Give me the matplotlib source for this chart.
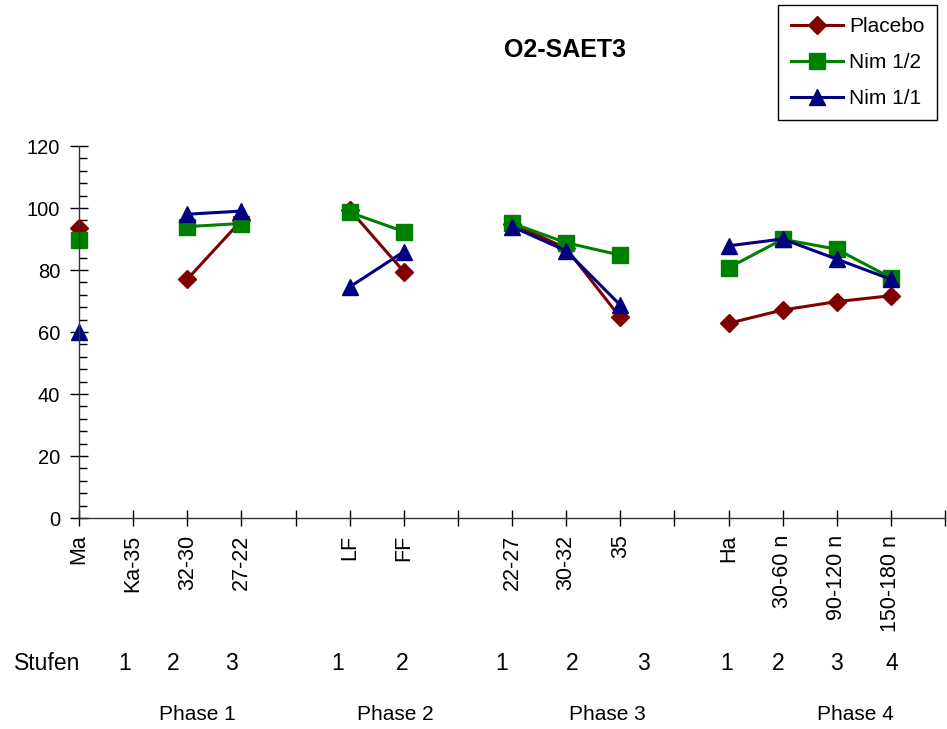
import numpy as np
import matplotlib
matplotlib.use("Agg")
import matplotlib.pyplot as plt
from matplotlib.ticker import MultipleLocator

plt.rcParams["font.family"] = ["Liberation Sans", "DejaVu Sans"]

# categories on the x axis ('' = empty gap slot)
categories = ["Ma", "Ka-35", "32-30", "27-22", "",
              "LF", "FF", "",
              "22-27", "30-32", "35", "",
              "Ha", "30-60 n", "90-120 n", "150-180 n", ""]
nan = np.nan
placebo = [93.5, nan, 77, 96, nan, 99.5, 79.5, nan, 95, 87, 64.7, nan, 62.8, 67.1, 69.8, 71.7, nan]
nim_half = [89.8, nan, 94, 95, nan, 98.6, 92.4, nan, 95.1, 88.8, 84.8, nan, 80.7, 89.9, 86.7, 77.5, nan]
nim_full = [60, nan, 98, 99, nan, 74.5, 85.9, nan, 94, 86.2, 68.7, nan, 87.8, 90, 83.5, 77, nan]

stufen = ["1", "2", "3", "1", "2", "1", "2", "3", "1", "2", "3", "4"]
phases = ["Phase 1", "Phase 2", "Phase 3", "Phase 4"]

W, H = 947, 729
fig = plt.figure(figsize=(W / 100, H / 100), dpi=100)
ax = fig.add_axes([79 / W, 1 - 518 / H, (945 - 79) / W, (518 - 146) / H])

x = np.arange(len(categories))
series = [
    ("Placebo", placebo, "#800000", "D", 9),
    ("Nim 1/2", nim_half, "#008000", "s", 11),
    ("Nim 1/1", nim_full, "#000080", "^", 11),
]
for name, vals, col, mk, ms in series:
    ax.plot(x, vals, color=col, lw=2.2, marker=mk, markersize=ms,
            markerfacecolor=col, markeredgecolor=col, label=name, clip_on=False)

ax.set_xlim(0, len(categories) - 1)
ax.set_ylim(0, 120)
ax.set_xticks(x)
ax.set_xticklabels(categories, rotation=90, va="top", fontsize=15.5)
ax.yaxis.set_major_locator(MultipleLocator(20))
ax.yaxis.set_minor_locator(MultipleLocator(4))
ax.tick_params(axis="y", which="major", direction="inout", length=13, width=1,
               labelsize=14.5, pad=7)
ax.tick_params(axis="y", which="minor", direction="in", length=6, width=1)
ax.tick_params(axis="x", direction="inout", length=12, width=1, pad=6)
for s in ["top", "right"]:
    ax.spines[s].set_visible(False)
for s in ["left", "bottom"]:
    ax.spines[s].set_color("#333333")
    ax.spines[s].set_linewidth(1)

fig.text(565 / W, 1 - 50 / H, "O2-SAET3", fontsize=18, fontweight="bold",
         ha="center", va="center")

# Stufen row
fig.text(47 / W, 1 - 663 / H, "Stufen", fontsize=16.5, ha="center", va="center")
stufen_x = [125, 173, 231, 338, 402, 502, 572, 643, 727, 778, 836, 892]
for sx, st in zip(stufen_x, stufen):
    fig.text(sx / W, 1 - 663 / H, st, fontsize=16.5, ha="center", va="center")

phase_x = [197, 395, 607, 855]
for px, ph in zip(phase_x, phases):
    fig.text(px / W, 1 - 714 / H, ph, fontsize=15, ha="center", va="center")

leg = fig.legend(loc="upper right", bbox_to_anchor=(937 / W, 1 - 5 / H),
                 fontsize=15, frameon=True, fancybox=False, framealpha=1,
                 edgecolor="black", handlelength=2.5, handletextpad=0.3,
                 labelspacing=0.8, borderpad=0.6, borderaxespad=0)
leg.get_frame().set_linewidth(1)

fig.savefig("out.png", dpi=100)
